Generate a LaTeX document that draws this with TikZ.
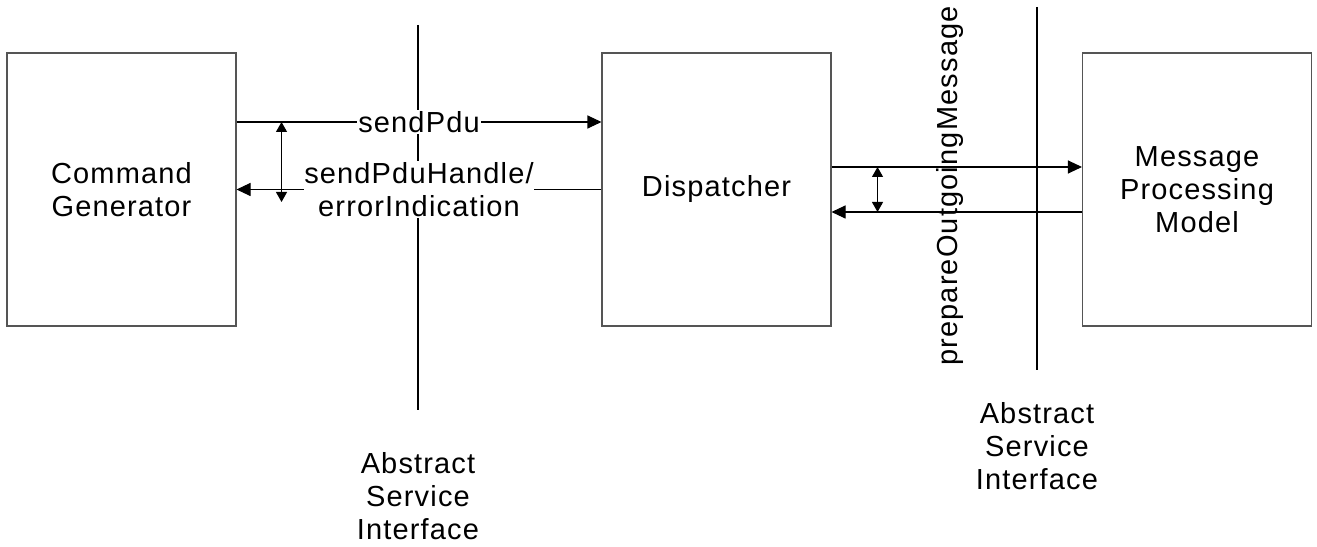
\documentclass[tikz,border=0pt]{standalone}
\usepackage{fontspec}
\setmainfont{Liberation Sans}[LetterSpace=4]
\usetikzlibrary{arrows.meta, positioning}
\definecolor{BoxGray}{HTML}{555555}
\newcommand{\diagfont}{\fontsize{16.5}{18.8}\selectfont}

\tikzset{
  block/.style={draw=BoxGray, line width=0.6pt, minimum width=4.58cm, minimum height=5.46cm, align=center, font=\diagfont},
  msg/.style={-{Triangle[length=0.28cm, width=0.26cm]}, line width=0.6pt},
  tick/.style={{Triangle[length=0.2cm, width=0.22cm]}-{Triangle[length=0.2cm, width=0.22cm]}, line width=0.6pt},
  lbl/.style={fill=white, inner xsep=1pt, inner ysep=1pt, align=center, font=\diagfont},
  iface/.style={align=center, inner sep=0pt, anchor=north, font=\diagfont}
}

\begin{document}
\begin{tikzpicture}
  \useasboundingbox (0,0) rectangle (26.34,10.94);
  % Interface lines
  \coordinate (ifLtop) at (8.36,10.44);
  \coordinate (ifLbot) at (8.36,2.74);
  \coordinate (ifRtop) at (20.74,10.8);
  \coordinate (ifRbot) at (20.74,3.54);
  \draw[line width=0.6pt] (ifLtop) -- (ifLbot);
  \draw[line width=0.6pt] (ifRtop) -- (ifRbot);
  \node[iface] (ifL) at (8.36,1.9) {Abstract\\Service\\Interface};
  \node[iface] (ifR) at (20.74,2.9) {Abstract\\Service\\Interface};
  % Blocks
  \node[block] (cg) at (2.43,7.15) {Command\\Generator};
  \node[block] (disp) at (14.33,7.15) {Dispatcher};
  \node[block] (mpm) at (23.94,7.15) {Message\\Processing\\Model};
  % Command Generator <-> Dispatcher
  \draw[msg] ([yshift=1.35cm]cg.east) -- node[lbl] {sendPdu} ([yshift=1.35cm]disp.west);
  \draw[msg] (disp.west) -- node[lbl, inner xsep=0pt] {sendPduHandle/\\errorIndication} (cg.east);
  \draw[tick] ([xshift=0.9cm, yshift=1.35cm]cg.east) -- ([xshift=0.9cm, yshift=-0.25cm]cg.east);
  % Dispatcher <-> Message Processing Model
  \draw[msg] ([yshift=0.45cm]disp.east) -- ([yshift=0.45cm]mpm.west);
  \draw[msg] ([yshift=-0.45cm]mpm.west) -- ([yshift=-0.45cm]disp.east);
  \draw[tick] ([xshift=0.92cm, yshift=0.45cm]disp.east) -- ([xshift=0.92cm, yshift=-0.45cm]disp.east);
  \node[rotate=90, font=\diagfont] (prep) at (19.0,7.22) {prepareOutgoingMessage};
\end{tikzpicture}
\end{document}
